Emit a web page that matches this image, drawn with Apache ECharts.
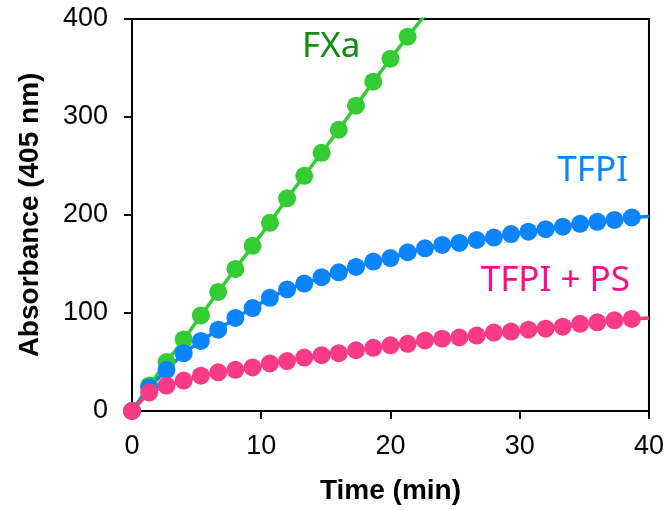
<!DOCTYPE html>
<html>
<head>
<meta charset="utf-8">
<script src="https://cdn.jsdelivr.net/npm/echarts@6/dist/echarts.min.js"></script>
<style>
  html, body { margin: 0; padding: 0; background: #fff; }
  #chart { width: 667px; height: 510px; }
</style>
</head>
<body>
<div id="chart"></div>
<script>
// time points (min), one reading every 80 s
const times = [0, 1.33, 2.67, 4, 5.33, 6.67, 8, 9.33, 10.67, 12, 13.33, 14.67, 16, 17.33, 18.67,
               20, 21.33, 22.67, 24, 25.33, 26.67, 28, 29.33, 30.67, 32, 33.33, 34.67, 36, 37.33, 38.67];

// absorbance readings
const fxa = [0, 26, 50, 73, 97.5, 121.5, 145, 168.5, 192, 217, 240, 263.5, 287, 311.5, 336, 359.5, 382];
const tfpi = [0, 24, 42, 59, 71.5, 83, 95, 105, 115.5, 124, 130, 136.5, 141.5, 147, 152.5, 156, 162,
              166, 169.5, 171.5, 174.5, 177, 180.5, 183, 185.5, 188, 191, 193, 195, 197.5];
const tfpiPs = [0, 19, 26, 31, 36, 39.5, 42, 44.5, 48.5, 51, 54.5, 57, 59, 62, 64.5, 67, 68.5,
                72, 73.8, 75, 77, 80, 81, 83, 84, 86, 89, 90.5, 92.5, 94];

// where the drawn curves run on past the last marker
const fxaLineEnd = [22.67, 404];
const tfpiLineEnd = [40, 198.5];
const tfpiPsLineEnd = [40, 95];

const xTicks = [0, 10, 20, 30, 40];
const yTicks = [0, 100, 200, 300, 400];

const colGreen = '#33cc33';
const colBlue = '#0a84ff';
const colPink = '#f93a86';

function buildData(vals, lineEnd) {
    let out = vals.map((v, i) => [times[i], v]);
    out.push({ value: lineEnd, symbol: 'none' });
    return out;
}

function makeSeries(name, vals, lineEnd, color) {
    return {
        name: name,
        type: 'line',
        data: buildData(vals, lineEnd),
        symbol: 'circle',
        symbolSize: 18,
        clip: true,
        lineStyle: { color: color, width: 3.5 },
        itemStyle: { color: color },
        emphasis: { disabled: true },
        z: 3
    };
}

const chart = echarts.init(document.getElementById('chart'));

const option = {
    animation: false,
    grid: {
        left: 132, right: 16, top: 19, bottom: 98,
        show: true,
        borderColor: '#000',
        borderWidth: 2
    },
    xAxis: {
        type: 'value',
        min: xTicks[0],
        max: xTicks[xTicks.length - 1],
        interval: 10,
        name: 'Time (min)',
        nameLocation: 'middle',
        nameGap: 66,
        nameTextStyle: { fontFamily: 'Liberation Sans', fontWeight: 'bold', fontSize: 28, color: '#000' },
        axisLine: { lineStyle: { color: '#000', width: 2 } },
        axisTick: { inside: false, length: 8, lineStyle: { color: '#000', width: 2 } },
        axisLabel: { fontFamily: 'Liberation Sans', fontSize: 27, color: '#000', margin: 22 },
        splitLine: { show: false }
    },
    yAxis: {
        type: 'value',
        min: yTicks[0],
        max: yTicks[yTicks.length - 1],
        interval: 100,
        name: 'Absorbance (405 nm)',
        nameLocation: 'middle',
        nameGap: 88,
        nameTextStyle: { fontFamily: 'Liberation Sans', fontWeight: 'bold', fontSize: 28, color: '#000' },
        axisLine: { lineStyle: { color: '#000', width: 2 } },
        axisTick: { inside: false, length: 8, lineStyle: { color: '#000', width: 2 } },
        axisLabel: { fontFamily: 'Liberation Sans', fontSize: 27, color: '#000', margin: 24 },
        splitLine: { show: false }
    },
    series: [
        makeSeries('FXa', fxa, fxaLineEnd, colGreen),
        makeSeries('TFPI', tfpi, tfpiLineEnd, colBlue),
        makeSeries('TFPI + PS', tfpiPs, tfpiPsLineEnd, colPink)
    ],
    graphic: [
        {
            type: 'text', left: 302, top: 30,
            style: { text: 'FXa', fill: '#0f8f0f', font: '35px "Noto Sans"' }
        },
        {
            type: 'text', right: 39, top: 154,
            style: { text: 'TFPI', fill: '#0a84ff', font: '35px "Noto Sans"' }
        },
        {
            type: 'text', right: 37, top: 264,
            style: { text: 'TFPI + PS', fill: '#ff0d87', font: '35px "Noto Sans"' }
        }
    ]
};

chart.setOption(option);
</script>
</body>
</html>
